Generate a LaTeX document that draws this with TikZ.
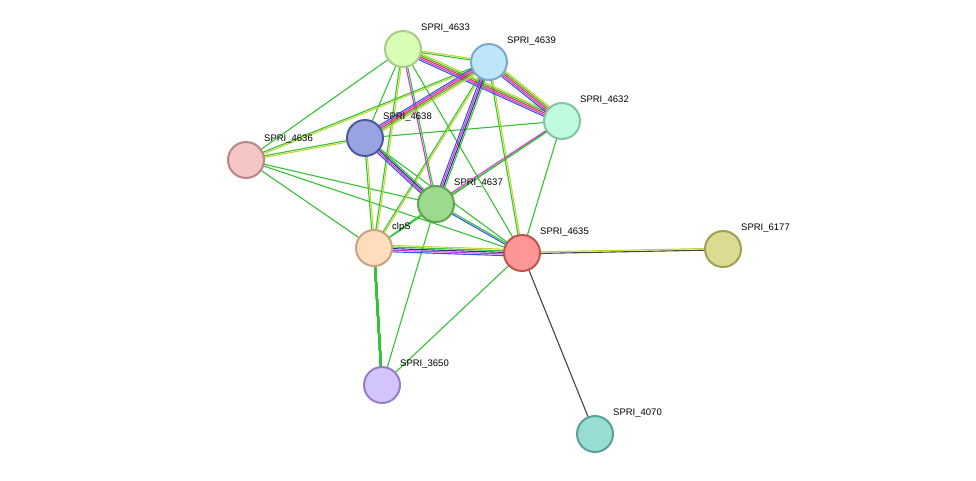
\documentclass[tikz,border=0pt]{standalone}
\usepackage{fontspec}
\setmainfont{Liberation Sans}
\usetikzlibrary{calc}
\definecolor{ecG}{HTML}{33C233}
\definecolor{ecY}{HTML}{C2D62E}
\definecolor{ecB}{HTML}{3355E6}
\definecolor{ecM}{HTML}{D633D6}
\definecolor{ecR}{HTML}{E63333}
\definecolor{ecK}{HTML}{444444}
\definecolor{ecN}{HTML}{2B2B8C}
\tikzset{
  prot/.style={circle,minimum size=36pt,inner sep=0pt,line width=2pt},
  lab/.style={anchor=west,font=\fontsize{9.5}{11}\selectfont,inner sep=0pt}
}
% one parallel line of an edge: colour, offset, from, to
\newcommand{\strand}[4]{\draw[#1,line width=1.1pt] ($(#3)!#2pt!90:(#4)$) -- ($(#4)!#2pt!-90:(#3)$);}
\begin{document}
\begin{tikzpicture}[x=1pt,y=-1pt]
\useasboundingbox (0,0) rectangle (976,480);
% proteins
\coordinate (p4633) at (403,49);
\coordinate (p4639) at (489,62);
\coordinate (p4632) at (562,121);
\coordinate (p4638) at (365,138);
\coordinate (p4636) at (246,160);
\coordinate (p4637) at (436,204);
\coordinate (clpS) at (374,248);
\coordinate (p4635) at (522,253);
\coordinate (p6177) at (723,249);
\coordinate (p3650) at (382,385);
\coordinate (p4070) at (595,434);

% single green edges
\foreach \a/\b in {p4633/p4638,p4633/p4636,p4633/p4635,p4632/p4638,p4632/p4635,
  p4636/p4637,p4636/clpS,p4636/p4635,p4637/clpS,p4637/p3650,p4635/p3650,
  p4638/p4635,p4632/clpS}
  \strand{ecG}{0}{\a}{\b}
\draw[ecG,line width=2pt] (clpS) -- (p3650);
% green and yellow
\foreach \a/\b in {p4633/p4639,p4633/clpS,p4639/p4636,p4639/clpS,p4639/p4635,
  p4638/clpS,p4638/p4636}
  {\strand{ecG}{-0.8}{\a}{\b}\strand{ecY}{0.8}{\a}{\b}}
% green and magenta
\foreach \a/\b in {p4633/p4637,p4632/p4637}
  {\strand{ecM}{-0.8}{\a}{\b}\strand{ecG}{0.8}{\a}{\b}}
% many evidences
\foreach \a/\b in {p4633/p4632,p4639/p4632,p4639/p4638}
  {\strand{ecB}{-3.2}{\a}{\b}\strand{ecM}{-1.6}{\a}{\b}\strand{ecR}{0}{\a}{\b}
   \strand{ecG}{1.6}{\a}{\b}\strand{ecY}{3.2}{\a}{\b}}
\foreach \a/\b in {p4639/p4637,p4638/p4637}
  {\strand{ecB}{-2.4}{\a}{\b}\strand{ecM}{-0.8}{\a}{\b}\strand{ecN}{0.8}{\a}{\b}
   \strand{ecG}{2.4}{\a}{\b}}
\strand{ecB}{-0.8}{p4637}{p4635}\strand{ecG}{0.8}{p4637}{p4635}
\strand{ecB}{-3.2}{clpS}{p4635}\strand{ecM}{-1.6}{clpS}{p4635}
\strand{ecN}{0}{clpS}{p4635}\strand{ecG}{1.6}{clpS}{p4635}\strand{ecY}{3.2}{clpS}{p4635}
\strand{ecK}{-0.8}{p4635}{p6177}\strand{ecY}{0.8}{p4635}{p6177}
\strand{ecK}{0}{p4635}{p4070}

% nodes
\foreach \n/\f/\d/\t in {p4633/D9FDB7/A9CC8A/SPRI\_4633,p4639/BDE6FB/79A9C6/SPRI\_4639,
  p4632/C1FBDD/83C5A2/SPRI\_4632,p4638/99A3E1/4F5A9E/SPRI\_4638,
  p4636/F5C6C6/B98787/SPRI\_4636,p4637/9CDB8D/5EA550/SPRI\_4637,
  clpS/FDDDBC/C7A47E/clpS,p4635/FE9696/C2524F/SPRI\_4635,
  p6177/DCDB92/A09F55/SPRI\_6177,p3650/D4C4FC/957FC2/SPRI\_3650,
  p4070/98DDD4/59A097/SPRI\_4070}
{
  \definecolor{nf}{HTML}{\f}\definecolor{nd}{HTML}{\d}
  \node[prot,fill=nf,draw=nd] (n\n) at (\n) {};
  \node[lab] at ($(\n)+(18,-21)$) {\t};
}
\end{tikzpicture}
\end{document}
